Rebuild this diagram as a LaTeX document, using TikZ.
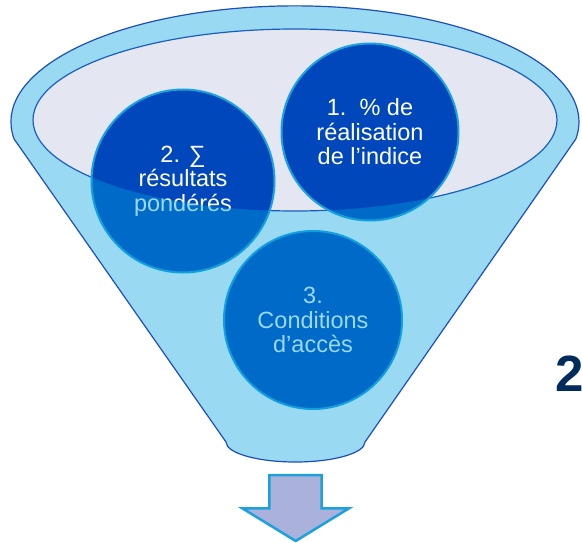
\documentclass[tikz,border=0pt]{standalone}
\usepackage{fontspec}
\setmainfont{Liberation Sans}
\definecolor{rim}{RGB}{30,78,186}
\definecolor{glass}{RGB}{0,160,224}
\definecolor{mouth}{RGB}{228,230,242}
\definecolor{ball}{RGB}{0,71,187}
\definecolor{ballrim}{RGB}{27,161,222}
\definecolor{lilac}{RGB}{170,178,220}
\definecolor{navy}{RGB}{0,43,92}
\begin{document}
\begin{tikzpicture}[
            x = 1pt, y = -1pt,
            ball/.style = {draw = ballrim, circle, line width = 2pt, fill = ball, text = white,
              align = center, inner sep = 0pt, font = \fontsize{23.5}{24.5}\selectfont},
            glassfill/.style = {fill = glass, fill opacity = 0.4, even odd rule},
            rimline/.style = {draw = rim, line width = 1.2pt},
          ]
          \useasboundingbox (0,0) rectangle (582,543);
          \fill[white] (0,0) rectangle (582,543);
          \draw[rimline, fill = mouth] (295,120) ellipse (262 and 91);
          \node[ball, minimum size = 177pt] (idx) at (370,132) {1.\hspace{13pt}\% de\\réalisation\\de l’indice};
          \node[ball, minimum size = 183pt] (sum) at (183,181) {2. ∑\\résultats\\pondérés};
          \node[ball, minimum size = 178pt] (acc) at (313,320) {3.\\Conditions\\d’accès};
          \path[glassfill] (14.1,139) arc[start angle = 171.5, end angle = 368.5, x radius = 284, y radius = 116]
            -- (365,442) arc[start angle = 0, end angle = 180, x radius = 69.5, y radius = 20] -- cycle
            (295,120) ellipse (262 and 91);
          \draw[rimline] (14.1,139) arc[start angle = 171.5, end angle = 368.5, x radius = 284, y radius = 116]
            -- (365,442) arc[start angle = 0, end angle = 180, x radius = 69.5, y radius = 20] -- cycle;
          \draw[draw = ballrim, line width = 2.5pt, fill = lilac] (269.3,475) -- (321.7,475) -- (321.7,508.3)
            -- (349,508.3) -- (295.7,541) -- (242.3,508.3) -- (269.3,508.3) -- cycle;
          \node[anchor = base west, inner sep = 0pt, text = navy, font = \bfseries\fontsize{51}{51}\selectfont] (step) at (555,391.7) {2};
        \end{tikzpicture}
\end{document}
